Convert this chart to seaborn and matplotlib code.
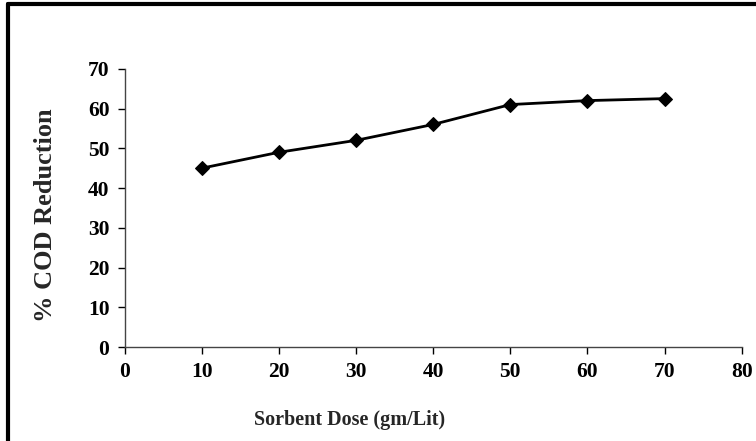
import matplotlib
matplotlib.use('Agg')
import seaborn as sns
import matplotlib.pyplot as plt
from matplotlib.lines import Line2D

dose = [10, 20, 30, 40, 50, 60, 70]
cod_reduction = [45, 49, 52, 56, 61, 62, 62.5]
x_ticks = [0, 10, 20, 30, 40, 50, 60, 70, 80]
y_ticks = [0, 10, 20, 30, 40, 50, 60, 70]

sns.set_style('ticks')
plt.rcParams['font.family'] = ['Liberation Serif', 'DejaVu Serif']
plt.rcParams['font.weight'] = 'bold'

fig = plt.figure(figsize=(7.56, 4.41), dpi=100)
ax = fig.add_axes([0.165, 0.213, 0.816, 0.631])

sns.lineplot(x=dose, y=cod_reduction, ax=ax, color='black', linewidth=2,
             marker='D', markersize=7, markeredgecolor='black')

ax.set_xlim(0, 80)
ax.set_ylim(0, 70)
ax.set_xticks(x_ticks)
ax.set_yticks(y_ticks)
ax.tick_params(axis='both', labelsize=15.5, direction='out', length=5, width=1, colors='black', pad=6)
for lab in ax.get_xticklabels() + ax.get_yticklabels():
    lab.set_fontweight('bold')
ax.set_xlabel('Sorbent Dose (gm/Lit)', fontsize=14.5, fontweight='bold')
ax.set_ylabel('% COD Reduction', fontsize=19, fontweight='bold')
ax.xaxis.set_label_coords(0.365, -0.225)
ax.yaxis.set_label_coords(-0.11, 0.475)
sns.despine(ax=ax)
for s in ['left', 'bottom']:
    ax.spines[s].set_color('#444444')
    ax.spines[s].set_linewidth(1)

# figure border (left and top visible)
fig.add_artist(Line2D([0.011, 0.011], [0, 0.99], transform=fig.transFigure, color='black', linewidth=3))
fig.add_artist(Line2D([0.011, 1.0], [0.99, 0.99], transform=fig.transFigure, color='black', linewidth=3))

fig.savefig('out.png', dpi=100)
